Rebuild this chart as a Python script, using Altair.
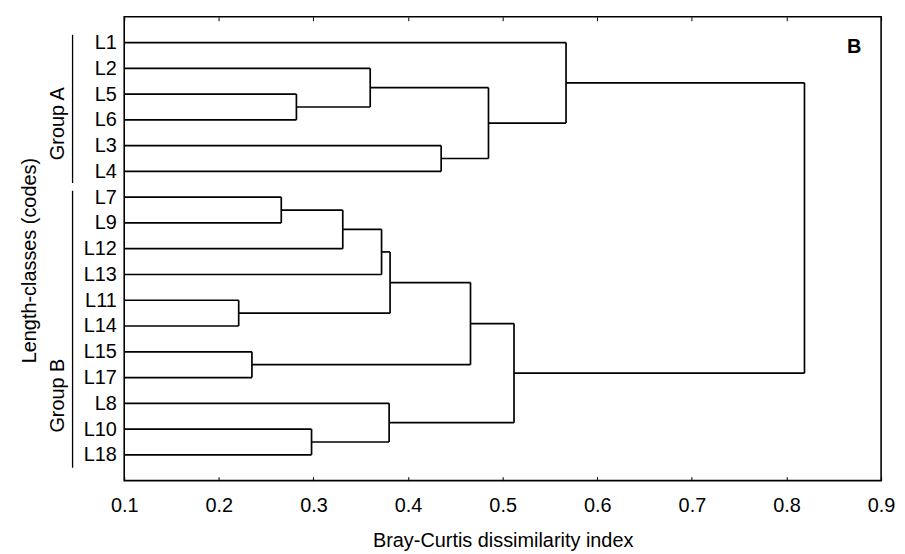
import altair as alt
import pandas as pd

# Leaf order (top to bottom) of the dendrogram
leaves = ["L1", "L2", "L5", "L6", "L3", "L4", "L7", "L9", "L12", "L13",
          "L11", "L14", "L15", "L17", "L8", "L10", "L18"]

# Agglomeration steps: (left child, right child, Bray-Curtis dissimilarity)
merge_left = ["L5", "L2", "L3", "n2", "L1", "L7", "n6", "n7", "L11", "n8",
              "L15", "n10", "L10", "L8", "n12", "n5"]
merge_right = ["L6", "n1", "L4", "n3", "n4", "L9", "L12", "L13", "L14", "n9",
               "L17", "n11", "L18", "n13", "n14", "n15"]
merge_height = [0.282, 0.360, 0.435, 0.485, 0.567, 0.266, 0.331, 0.372, 0.221,
                0.381, 0.235, 0.466, 0.298, 0.380, 0.512, 0.819]

x_ticks = [0.1, 0.2, 0.3, 0.4, 0.5, 0.6, 0.7, 0.8, 0.9]

# Groups of length-classes (span in leaf positions)
group_names = ["Group A", "Group B"]
group_start = [0.7, 6.75]
group_end = [6.45, 17.5]
group_text_pos = [4.15, 14.7]

FONT = "Liberation Sans"
FS = 20
X0 = 0.1

# Build dendrogram segments from the merge table
pos = {lf: i + 1 for i, lf in enumerate(leaves)}
xh = {lf: X0 for lf in leaves}
segs = []
for i, (a, b, h) in enumerate(zip(merge_left, merge_right, merge_height)):
    node = f"n{i + 1}"
    segs.append({"x": xh[a], "x2": h, "y": pos[a], "y2": pos[a]})
    segs.append({"x": xh[b], "x2": h, "y": pos[b], "y2": pos[b]})
    segs.append({"x": h, "x2": h, "y": pos[a], "y2": pos[b]})
    pos[node] = (pos[a] + pos[b]) / 2
    xh[node] = h
seg_df = pd.DataFrame(segs)

grp_df = pd.DataFrame({"name": group_names, "start": group_start,
                       "end": group_end, "tpos": group_text_pos})

label_arr = "[" + ",".join(["''"] + [f"'{l}'" for l in leaves] + ["''"]) + "]"

xscale = alt.Scale(domain=[0.1, 0.9], nice=False, zero=False)
yscale = alt.Scale(domain=[0, 18], reverse=True, nice=False, zero=False)

dendro = alt.Chart(seg_df).mark_rule(color="black", strokeWidth=1.7).encode(
    x=alt.X("x:Q", scale=xscale,
            axis=alt.Axis(orient="bottom", values=x_ticks, format=".1f",
                          title="Bray-Curtis dissimilarity index",
                          labelFontSize=FS, titleFontSize=FS, titleFontWeight="normal",
                          labelFont=FONT, titleFont=FONT, labelColor="black", titleColor="black",
                          domain=False, tickSize=4, offset=-4, tickColor="black",
                          labelPadding=15, titlePadding=15, grid=False,
                          labelFlush=False, labelOverlap=False)),
    x2="x2:Q",
    y=alt.Y("y:Q", scale=yscale,
            axis=alt.Axis(values=list(range(1, len(leaves) + 1)),
                          labelExpr=f"{label_arr}[datum.value]",
                          title="Length-classes (codes)", titleFontSize=FS,
                          titleFontWeight="normal", labelFontSize=FS,
                          labelFont=FONT, titleFont=FONT, labelColor="black",
                          titleColor="black", ticks=False, domain=False, grid=False,
                          labelPadding=8, labelOverlap=False, labelBound=False,
                          titleAngle=270, titleX=-95, titleY=245,
                          titleAlign="center", titleBaseline="middle")),
    y2="y2:Q",
)

top_ticks = alt.Chart(pd.DataFrame({"v": x_ticks})).mark_point(opacity=0).encode(
    x=alt.X("v:Q", scale=xscale,
            axis=alt.Axis(orient="top", values=x_ticks, labels=False, title=None,
                          domain=False, tickSize=4, offset=-4, tickColor="black",
                          grid=False)),
)

grp_lines = alt.Chart(grp_df).mark_rule(color="black", strokeWidth=1.3).encode(
    x=alt.value(-52),
    y=alt.Y("start:Q", scale=yscale, axis=None),
    y2="end:Q",
)

grp_text = alt.Chart(grp_df).mark_text(angle=270, fontSize=FS, font=FONT,
                                       color="black", align="center",
                                       baseline="middle").encode(
    x=alt.value(-67),
    y=alt.Y("tpos:Q", scale=yscale, axis=None),
    text="name:N",
)

panel = alt.Chart(pd.DataFrame({"t": ["B"]})).mark_text(
    fontSize=FS, fontWeight="bold", font=FONT, color="black",
    align="center", baseline="middle").encode(
    x=alt.value(735), y=alt.value(30), text="t:N")

chart = alt.layer(dendro, top_ticks, grp_lines, grp_text, panel).resolve_axis(
    x="independent", y="independent"
).properties(
    width=762, height=467,
    autosize=alt.AutoSizeParams(type="none"),
    padding={"left": 117, "top": 7, "right": 16, "bottom": 71},
    background="white",
).configure_view(stroke="black", strokeWidth=1.6)

chart.save("out.html", embed_options={"renderer": "svg", "actions": False})
